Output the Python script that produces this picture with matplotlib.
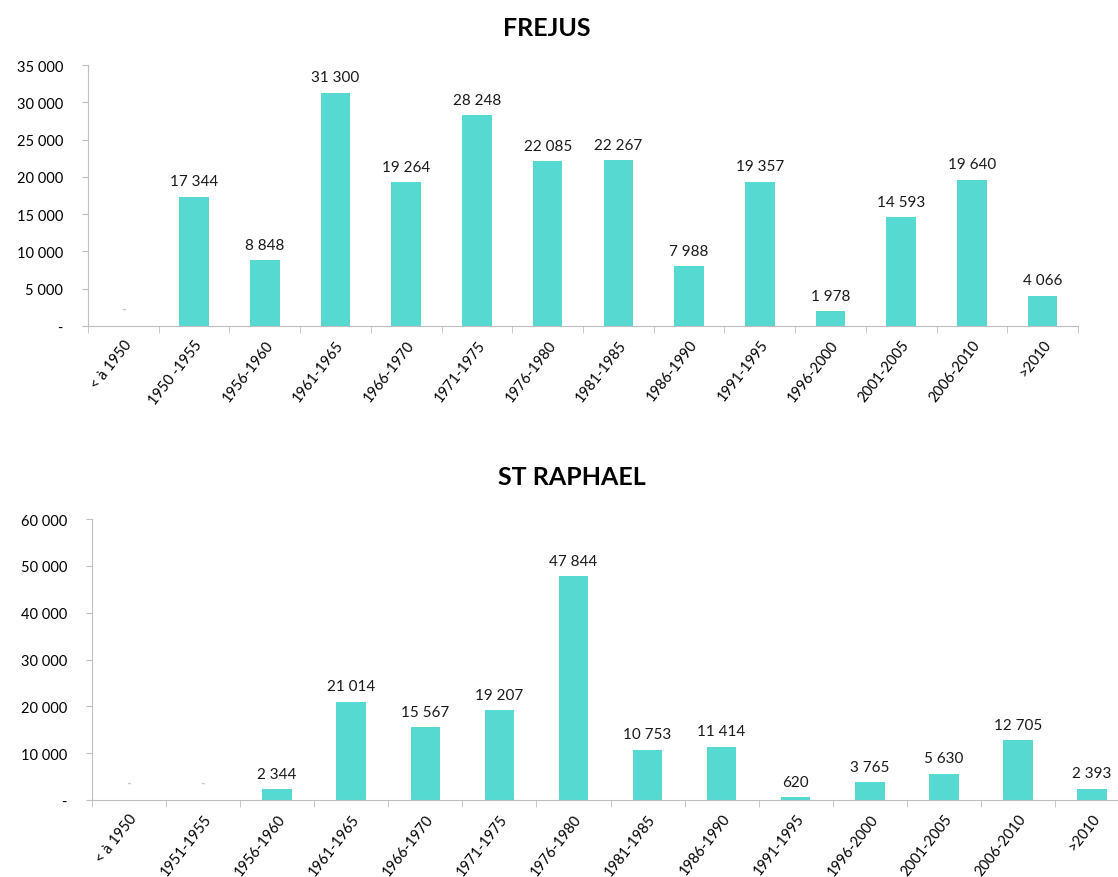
import numpy as np
import matplotlib.pyplot as plt
from matplotlib.ticker import FuncFormatter, FixedLocator

plt.rcParams['font.family'] = ['Lato', 'DejaVu Sans']

# data
frejus_cats = ['< à 1950', '1950 -1955', '1956-1960', '1961-1965', '1966-1970', '1971-1975',
               '1976-1980', '1981-1985', '1986-1990', '1991-1995', '1996-2000', '2001-2005',
               '2006-2010', '>2010']
frejus_vals = [0, 17344, 8848, 31300, 19264, 28248, 22085, 22267, 7988, 19357, 1978, 14593, 19640, 4066]

raphael_cats = ['< à 1950', '1951-1955', '1956-1960', '1961-1965', '1966-1970', '1971-1975',
                '1976-1980', '1981-1985', '1986-1990', '1991-1995', '1996-2000', '2001-2005',
                '2006-2010', '>2010']
raphael_vals = [0, 0, 2344, 21014, 15567, 19207, 47844, 10753, 11414, 620, 3765, 5630, 12705, 2393]

BAR = '#56d9d1'
AXC = '#bfbfbf'


def fmt(v):
    if v == 0:
        return '-'
    return '{:,}'.format(int(v)).replace(',', ' ')


def bar_chart(ax, cats, vals, ymax, step, width, off):
    x = np.arange(len(cats))
    ax.bar(x, vals, width=width, color=BAR)
    for xi, v in zip(x, vals):
        if v == 0:
            # empty category: Excel shows a faint dash
            ax.annotate('-', (xi, 0), xytext=(0, 8), textcoords='offset points',
                        ha='center', va='bottom', fontsize=9, color='#c8c8c8',
                        fontweight='bold')
        else:
            ax.annotate(fmt(v), (xi, v), xytext=(0, off), textcoords='offset points',
                        ha='center', va='bottom', fontsize=11, color='#1a1a1a')
    ax.set_xlim(-0.5, len(cats) - 0.5)
    ax.set_ylim(0, ymax)
    ax.set_yticks(np.arange(0, ymax + 1, step))
    ax.yaxis.set_major_formatter(FuncFormatter(lambda v, p: fmt(v)))
    ax.set_xticks(x)
    ax.set_xticklabels(cats, rotation=52, ha='right', rotation_mode='anchor', fontsize=10.5)
    ax.xaxis.set_minor_locator(FixedLocator(np.arange(-0.5, len(cats), 1)))
    ax.tick_params(axis='x', which='major', length=0, pad=8)
    ax.tick_params(axis='x', which='minor', length=5, color=AXC)
    ax.tick_params(axis='y', length=4, color=AXC, labelsize=10.5, pad=14)
    for s in ['top', 'right']:
        ax.spines[s].set_visible(False)
    for s in ['left', 'bottom']:
        ax.spines[s].set_color(AXC)


fig = plt.figure(figsize=(11.18, 8.78), dpi=100)
ax1 = fig.add_axes([88 / 1118, 1 - 327 / 878, (1078 - 88) / 1118, (327 - 66) / 878])
ax2 = fig.add_axes([92 / 1118, 1 - 801 / 878, (1129 - 92) / 1118, (801 - 520) / 878])

bar_chart(ax1, frejus_cats, frejus_vals, 35000, 5000, 0.42, 6)
bar_chart(ax2, raphael_cats, raphael_vals, 60000, 10000, 0.4, 6)

fig.text(547 / 1118, 1 - 28 / 878, 'FREJUS', ha='center', va='center',
         fontsize=18, fontweight='bold')
fig.text(572 / 1118, 1 - 478 / 878, 'ST RAPHAEL', ha='center', va='center',
         fontsize=18, fontweight='bold')

fig.savefig('out.png', dpi=100)
